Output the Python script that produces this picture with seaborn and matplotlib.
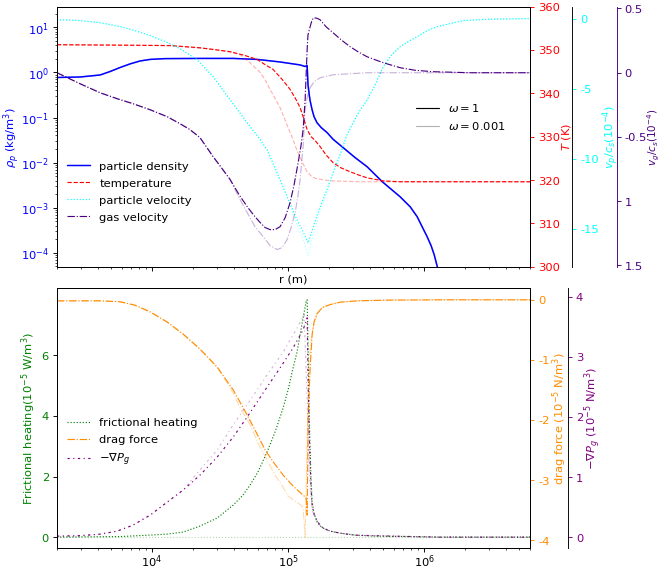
import matplotlib
matplotlib.use('Agg')
import matplotlib.pyplot as plt
from matplotlib.lines import Line2D
import seaborn as sns

# ---- top panel data (omega = 1 and omega = 0.001) ----
r_rho = [2.0e3, 2.96e3, 4.15e3, 4.91e3, 5.82e3, 6.89e3, 8.16e3, 9.67e3, 1.25e4, 2.25e4,
         3.95e4, 5.92e4, 8.73e4, 1.225e5, 1.33e5, 1.38e5, 1.40e5, 1.43e5, 1.45e5, 1.50e5,
         1.55e5, 1.63e5, 1.75e5, 1.94e5, 2.14e5, 2.54e5, 3.11e5, 3.81e5, 4.91e5, 6.67e5,
         7.89e5, 8.89e5, 9.66e5, 1.05e6, 1.125e6, 1.185e6, 1.25e6, 1.31e6]
rho_p = [0.774, 0.794, 0.88, 1.05, 1.29, 1.55, 1.80, 1.95, 2.03, 2.05,
         2.05, 1.95, 1.71, 1.47, 1.36, 1.43, 0.54, 0.32, 0.24, 0.15,
         0.105, 0.077, 0.060, 0.046, 0.033, 0.0215, 0.0129, 8.1e-3, 3.8e-3, 1.74e-3,
         1.05e-3, 6.3e-4, 3.8e-4, 2.3e-4, 1.44e-4, 9.1e-5, 4.9e-5, 2.5e-5]

r_T = [2.0e3, 5.82e3, 1.36e4, 2.25e4, 3.75e4, 4.83e4, 5.92e4, 6.78e4, 7.76e4, 9.04e4,
       1.034e5, 1.146e5, 1.225e5, 1.311e5, 1.38e5, 1.476e5, 1.58e5, 1.72e5, 1.90e5, 2.14e5,
       2.45e5, 2.86e5, 3.27e5, 3.81e5, 5.0e5, 6.67e5, 6.0e6]
T_w1 = [351.2, 351.1, 351.0, 350.5, 349.6, 348.7, 347.8, 346.6, 345.5, 343.2,
        340.9, 338.5, 336.7, 333.9, 331.6, 330.0, 329.1, 327.7, 325.8, 324.0,
        322.8, 321.9, 321.2, 320.5, 319.8, 319.6, 319.6]
r_T_low = [2.0e3, 1.36e4, 2.9e4, 3.75e4, 4.44e4, 5.26e4, 6.23e4, 6.78e4, 7.37e4, 8.02e4,
           8.73e4, 1.0e5, 1.088e5, 1.164e5, 1.268e5, 1.38e5, 1.50e5, 1.63e5, 2.04e5, 3.38e5,
           6.0e6]
T_low = [351.2, 351.0, 350.1, 349.5, 348.9, 347.0, 344.8, 343.1, 340.9, 338.8,
         336.7, 332.1, 329.3, 326.8, 324.2, 321.9, 320.7, 320.3, 319.8, 319.6,
         319.6]

r_vp = [2.0e3, 2.96e3, 4.15e3, 5.82e3, 7.50e3, 9.67e3, 1.25e4, 1.606e4, 2.14e4, 2.81e4,
        3.75e4, 5.0e4, 6.23e4, 7.01e4, 8.30e4, 9.83e4, 1.164e5, 1.289e5, 1.404e5, 1.55e5,
        1.72e5, 1.94e5, 2.14e5, 2.41e5, 2.71e5, 3.22e5, 3.81e5, 4.37e5, 5.0e5, 5.71e5,
        6.67e5, 7.62e5, 8.89e5, 1.05e6, 1.25e6, 1.55e6, 1.94e6, 3.05e6, 6.0e6]
vp_w1 = [-0.07, -0.14, -0.29, -0.57, -0.86, -1.21, -1.64, -2.14, -2.93, -4.14,
         -5.79, -7.43, -8.64, -9.36, -11.0, -12.7, -14.36, -15.2, -16.0, -14.7,
         -13.43, -12.14, -11.0, -9.71, -8.29, -6.86, -5.79, -4.71, -3.43, -2.64,
         -2.0, -1.64, -1.29, -0.86, -0.57, -0.36, -0.14, -0.04, 0.0]
vp_low = [-0.07, -0.14, -0.29, -0.57, -0.86, -1.21, -1.64, -2.14, -2.93, -4.14,
          -5.79, -7.43, -8.64, -9.36, -11.0, -12.7, -14.7, -15.7, -16.9, -15.2,
          -13.7, -12.3, -11.0, -9.71, -8.29, -6.86, -5.79, -4.71, -3.43, -2.64,
          -2.0, -1.64, -1.29, -0.86, -0.57, -0.36, -0.14, -0.04, 0.0]

r_vg = [2.0e3, 2.96e3, 4.15e3, 5.53e3, 7.24e3, 9.67e3, 1.29e4, 1.606e4, 1.90e4, 2.25e4,
        2.81e4, 3.27e4, 3.75e4, 4.36e4, 5.0e4, 5.62e4, 6.23e4, 6.78e4, 7.37e4, 8.02e4,
        8.73e4, 9.51e4, 1.034e5, 1.107e5, 1.185e5, 1.247e5, 1.289e5, 1.334e5, 1.38e5, 1.40e5,
        1.452e5, 1.50e5, 1.55e5, 1.63e5, 1.72e5, 1.90e5, 2.14e5, 2.45e5, 2.86e5, 3.27e5,
        3.81e5, 5.0e5, 6.67e5, 8.59e5, 1.165e6, 2.18e6, 6.0e6]
vg_w1 = [0.0, -0.086, -0.156, -0.202, -0.241, -0.288, -0.342, -0.397, -0.443, -0.505,
         -0.653, -0.746, -0.832, -0.949, -1.042, -1.112, -1.166, -1.205, -1.221, -1.221,
         -1.198, -1.128, -1.011, -0.871, -0.70, -0.56, -0.443, -0.21, 0.179, 0.295,
         0.358, 0.412, 0.428, 0.424, 0.412, 0.358, 0.311, 0.257, 0.202, 0.163,
         0.124, 0.078, 0.039, 0.019, 0.008, 0.0, 0.0]
r_vg_low = [2.0e3, 2.96e3, 4.15e3, 5.53e3, 7.24e3, 9.67e3, 1.29e4, 1.606e4, 1.90e4, 2.25e4,
            2.81e4, 3.27e4, 3.75e4, 4.44e4, 5.0e4, 5.71e4, 6.55e4, 7.37e4, 8.30e4, 9.04e4,
            9.83e4, 1.052e5, 1.126e5, 1.185e5, 1.225e5, 1.289e5, 1.334e5, 1.38e5, 1.452e5, 1.55e5,
            1.72e5, 2.14e5, 3.81e5, 6.0e6]
vg_low = [0.0, -0.086, -0.156, -0.202, -0.241, -0.288, -0.342, -0.397, -0.443, -0.505,
          -0.653, -0.746, -0.832, -0.988, -1.089, -1.198, -1.275, -1.345, -1.376, -1.361,
          -1.299, -1.205, -1.089, -0.949, -0.832, -0.575, -0.288, -0.194, -0.117, -0.07,
          -0.039, -0.016, 0.0, 0.0]

# ---- bottom panel data ----
r_fh = [2.0e3, 5.82e3, 9.67e3, 1.29e4, 1.69e4, 2.25e4, 3.01e4, 3.95e4, 4.59e4, 5.26e4,
        6.0e4, 7.01e4, 8.02e4, 9.19e4, 1.0e5, 1.088e5, 1.164e5, 1.225e5, 1.289e5, 1.357e5,
        1.38e5, 1.404e5, 1.428e5, 1.452e5, 1.476e5, 1.502e5, 1.55e5, 1.634e5, 1.72e5, 1.81e5,
        2.035e5, 2.41e5, 3.10e5, 4.22e5, 1.31e6, 6.0e6]
fh_w1 = [0.0, 0.017, 0.066, 0.099, 0.165, 0.364, 0.628, 1.058, 1.355, 1.719,
         2.149, 2.81, 3.471, 4.264, 4.86, 5.587, 6.116, 6.678, 7.24, 7.769,
         7.835, 6.116, 4.198, 2.81, 1.884, 1.157, 0.793, 0.496, 0.364, 0.298,
         0.198, 0.132, 0.066, 0.033, 0.0, 0.0]
r_fh_low = [2.0e3, 6.0e6]
fh_low = [0.0, 0.0]

r_drag = [2.0e3, 4.15e3, 5.82e3, 7.5e3, 9.67e3, 1.29e4, 1.69e4, 2.25e4, 3.01e4, 3.95e4,
          5.0e4, 5.81e4, 6.78e4, 7.88e4, 9.19e4, 1.088e5, 1.289e5, 1.357e5, 1.38e5, 1.404e5,
          1.452e5, 1.502e5, 1.55e5, 1.634e5, 1.78e5, 2.035e5, 2.41e5, 3.22e5, 5.63e5, 1.31e6,
          6.0e6]
drag_w1 = [-0.017, -0.017, -0.033, -0.09, -0.2, -0.37, -0.57, -0.82, -1.12, -1.5,
           -1.917, -2.2, -2.5, -2.717, -2.917, -3.1, -3.25, -3.3, -3.583, -1.97,
           -1.13, -0.58, -0.37, -0.23, -0.13, -0.08, -0.04, -0.017, -0.005, 0.0,
           0.0]
r_drag_low = [2.0e3, 4.15e3, 5.82e3, 7.5e3, 9.67e3, 1.29e4, 1.69e4, 2.25e4, 3.01e4, 3.95e4,
              4.44e4, 5.26e4, 6.0e4, 7.01e4, 8.02e4, 9.19e4, 1.0e5, 1.164e5, 1.289e5, 1.334e5,
              1.38e5, 1.428e5, 1.502e5, 1.634e5, 1.78e5, 2.035e5, 2.41e5, 3.22e5, 5.63e5, 1.31e6,
              6.0e6]
drag_low = [-0.017, -0.017, -0.033, -0.09, -0.2, -0.37, -0.57, -0.82, -1.12, -1.55,
            -1.8, -2.08, -2.38, -2.67, -2.92, -3.12, -3.27, -3.37, -3.45, -3.95,
            -2.33, -1.0, -0.53, -0.23, -0.13, -0.08, -0.04, -0.017, -0.005, 0.0,
            0.0]

r_grad = [2.0e3, 2.96e3, 4.15e3, 5.53e3, 7.24e3, 9.67e3, 1.29e4, 1.69e4, 2.25e4, 3.01e4,
          3.95e4, 5.0e4, 6.55e4, 8.73e4, 1.088e5, 1.289e5, 1.38e5, 1.404e5, 1.428e5, 1.452e5,
          1.476e5, 1.502e5, 1.55e5, 1.634e5, 1.72e5, 1.81e5, 2.035e5, 2.41e5, 3.10e5, 4.22e5,
          1.31e6, 6.0e6]
grad_w1 = [0.017, 0.025, 0.05, 0.1, 0.2, 0.367, 0.583, 0.783, 1.033, 1.333,
           1.667, 2.0, 2.4, 2.817, 3.15, 3.45, 3.65, 2.53, 1.78, 1.2,
           0.78, 0.53, 0.38, 0.27, 0.2, 0.15, 0.1, 0.067, 0.033, 0.025,
           0.0, 0.0]
r_grad_low = [2.0e3, 2.96e3, 4.15e3, 5.53e3, 7.24e3, 9.67e3, 1.29e4, 1.69e4, 2.25e4, 3.01e4,
              3.95e4, 5.26e4, 7.01e4, 9.19e4, 1.164e5, 1.311e5, 1.38e5, 1.428e5, 1.502e5, 1.634e5,
              1.72e5, 1.81e5, 2.035e5, 2.41e5, 3.10e5, 4.22e5, 1.31e6, 6.0e6]
grad_low = [0.017, 0.025, 0.05, 0.1, 0.2, 0.367, 0.583, 0.783, 1.12, 1.45,
            1.87, 2.28, 2.7, 3.08, 3.48, 3.7, 2.28, 1.12, 0.45, 0.27,
            0.2, 0.15, 0.1, 0.067, 0.033, 0.025, 0.0, 0.0]

# tick labels of the gas velocity axis, as printed
vg_ticks = [0.5, 0, -0.5, -1, -1.5]
vg_ticklabels = ['0.5', '0', '-0.5', '1', '1.5']

sns.set_style('ticks')
plt.rcParams['font.family'] = ['DejaVu Sans']
plt.rcParams['font.size'] = 10
plt.rcParams['axes.unicode_minus'] = False
plt.rcParams['axes.edgecolor'] = 'black'
plt.rcParams['axes.labelcolor'] = 'black'
plt.rcParams['text.color'] = 'black'
plt.rcParams['xtick.color'] = 'black'
plt.rcParams['ytick.color'] = 'black'

LOW = 0.3  # alpha for omega = 0.001


def draw(ax, r, y, color, ls, alpha=1.0, lw=1.0):
    sns.lineplot(x=r, y=y, ax=ax, color=color, linestyle=ls, alpha=alpha, lw=lw,
                 sort=False, estimator=None, legend=False)


fig = plt.figure(figsize=(8.0, 6.87), dpi=82.75)
xlim = (2.0e3, 6.0e6)

# ================= top panel =================
ax1 = fig.add_axes([0.0861, 0.5299, 0.7145, 0.4577])
axT = ax1.twinx()
axP = ax1.twinx()
axG = ax1.twinx()

draw(ax1, r_rho, rho_p, 'blue', '-', LOW, 1.3)
draw(ax1, r_rho, rho_p, 'blue', '-', 1.0, 1.3)
draw(axT, r_T_low, T_low, 'red', '--', LOW)
draw(axT, r_T, T_w1, 'red', '--')
draw(axP, r_vp, vp_low, 'cyan', ':', LOW)
draw(axP, r_vp, vp_w1, 'cyan', ':')
draw(axG, r_vg_low, vg_low, 'indigo', '-.', LOW)
draw(axG, r_vg, vg_w1, 'indigo', '-.')

ax1.set_xscale('log')
ax1.set_yscale('log')
ax1.set_xlim(*xlim)
ax1.set_ylim(4.9e-5, 29)
ax1.set_xlabel('r (m)', labelpad=1)
ax1.set_ylabel(r'$\rho_p$ (kg/m$^3$)', color='blue')
ax1.yaxis.set_label_coords(-0.073, 0.5)
ax1.tick_params(axis='y', labelcolor='blue')
ax1.tick_params(axis='x', labelbottom=False)

axT.set_ylim(300, 360)
axT.set_ylabel(r'$T$ (K)', color='red', labelpad=0)
axT.tick_params(axis='y', colors='red')

axP.spines['right'].set_position(('axes', 1.089))
axP.set_ylim(-17.7, 0.86)
axP.set_yticks([0, -5, -10, -15])
axP.set_ylabel(r'$v_p/c_s(10^{-4})$', color='cyan', labelpad=1)
axP.tick_params(axis='y', colors='cyan')

axG.spines['right'].set_position(('axes', 1.183))
axG.spines['right'].set_color('indigo')
axG.set_ylim(-1.51, 0.515)
axG.set_yticks(vg_ticks)
axG.set_yticklabels(vg_ticklabels)
axG.set_ylabel(r'$v_g/c_s(10^{-4})$', color='indigo', labelpad=-1, fontsize=9)
axG.tick_params(axis='y', colors='indigo')

for a in (axT, axP, axG):
    a.set_xlabel('')

h_top = [Line2D([], [], color='blue', ls='-', lw=1.3),
         Line2D([], [], color='red', ls='--', lw=1.0),
         Line2D([], [], color='cyan', ls=':', lw=1.0),
         Line2D([], [], color='indigo', ls='-.', lw=1.0)]
leg1 = axG.legend(h_top, ['particle density', 'temperature', 'particle velocity', 'gas velocity'],
                  loc='lower left', bbox_to_anchor=(0.0115, 0.154), borderaxespad=0,
                  frameon=False, labelspacing=0.6)
h_w = [Line2D([], [], color='black', lw=1.0),
       Line2D([], [], color='black', lw=1.0, alpha=LOW)]
axG.add_artist(leg1)
axG.legend(h_w, [r'$\omega = 1$', r'$\omega = 0.001$'], loc='lower left',
           bbox_to_anchor=(0.749, 0.5015), borderaxespad=0, frameon=False)

# ================= bottom panel =================
ax2 = fig.add_axes([0.0861, 0.0352, 0.7145, 0.4577])
axD = ax2.twinx()
axN = ax2.twinx()

draw(ax2, r_fh_low, fh_low, 'green', ':', LOW)
draw(ax2, r_fh, fh_w1, 'green', ':')
draw(axD, r_drag_low, drag_low, 'darkorange', '-.', LOW)
draw(axD, r_drag, drag_w1, 'darkorange', '-.')
grad_ls = (0, (2, 3, 1, 3))
draw(axN, r_grad_low, grad_low, 'purple', grad_ls, LOW)
draw(axN, r_grad, grad_w1, 'purple', grad_ls)

ax2.set_xscale('log')
ax2.set_xlim(*xlim)
ax2.set_ylim(-0.36, 8.23)
ax2.set_yticks([0, 2, 4, 6])
ax2.set_xlabel('')
ax2.set_ylabel(r'Frictional heating(10$^{-5}$ W/m$^3$)', color='green')
ax2.yaxis.set_label_coords(-0.040, 0.5)
ax2.tick_params(axis='y', labelcolor='green')
ax2.tick_params(axis='x', pad=0.5)

axD.set_ylim(-4.13, 0.2)
axD.set_yticks([0, -1, -2, -3, -4])
axD.set_ylabel(r'drag force (10$^{-5}$ N/m$^3$)', color='darkorange', labelpad=1)
axD.tick_params(axis='y', colors='darkorange')

axN.spines['right'].set_position(('axes', 1.08))
axN.set_ylim(-0.18, 4.15)
axN.set_yticks([0, 1, 2, 3, 4])
axN.set_ylabel(r'$-\nabla P_g$ (10$^{-5}$ N/m$^3$)', color='purple', labelpad=-1)
axN.tick_params(axis='y', colors='purple')

for a in (axD, axN):
    a.set_xlabel('')

h_bot = [Line2D([], [], color='green', ls=':', lw=1.0),
         Line2D([], [], color='darkorange', ls='-.', lw=1.0),
         Line2D([], [], color='purple', ls=grad_ls, lw=1.0)]
axN.legend(h_bot, ['frictional heating', 'drag force', r'$-\nabla P_g$'],
           loc='lower left', bbox_to_anchor=(0.0115, 0.29), borderaxespad=0,
           frameon=False, labelspacing=0.6)

plt.savefig('out.png', dpi=82.75)
